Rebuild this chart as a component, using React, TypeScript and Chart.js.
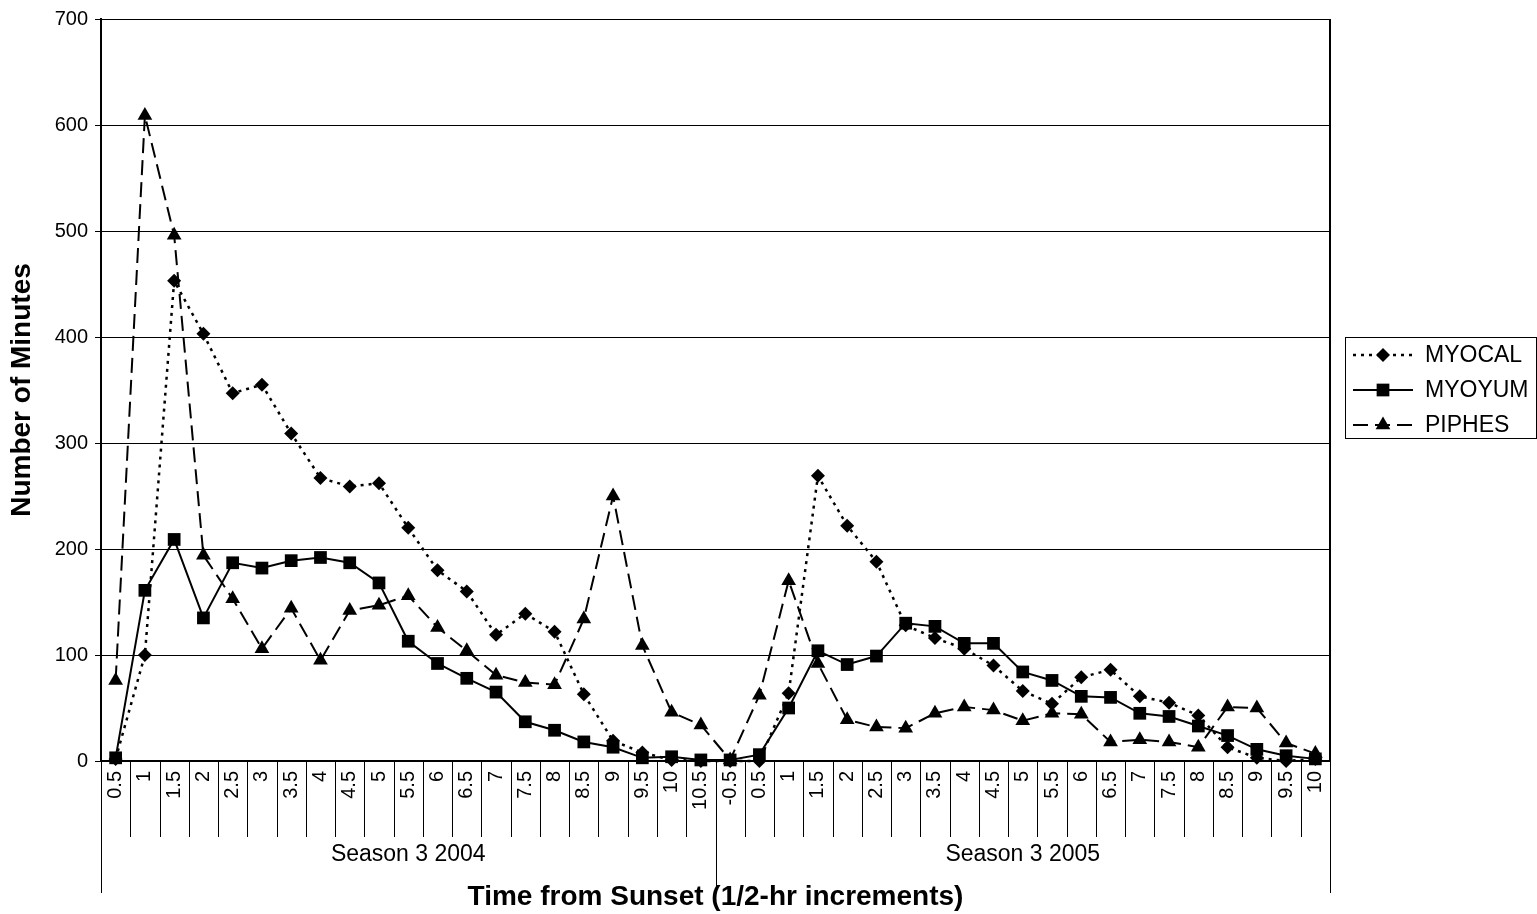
import { useEffect, useRef } from 'react';
import { Chart, registerables } from 'chart.js';

Chart.register(...registerables);

// Half-hour bins after sunset, per season
const season2004Labels = ['0.5', '1', '1.5', '2', '2.5', '3', '3.5', '4', '4.5', '5', '5.5', '6', '6.5', '7', '7.5', '8', '8.5', '9', '9.5', '10', '10.5'];
const season2005Labels = ['-0.5', '0.5', '1', '1.5', '2', '2.5', '3', '3.5', '4', '4.5', '5', '5.5', '6', '6.5', '7', '7.5', '8', '8.5', '9', '9.5', '10'];
const seasonNames = ['Season 3 2004', 'Season 3 2005'];

// Minutes of activity per bin
const myocal2004 = [2, 100, 453, 403, 347, 355, 309, 267, 259, 262, 220, 180, 160, 119, 139, 122, 63, 19, 8, 1, 0];
const myocal2005 = [0, 0, 64, 269, 222, 188, 128, 116, 106, 90, 66, 54, 79, 86, 61, 55, 43, 13, 3, 0, 2];
const myoyum2004 = [3, 161, 209, 135, 187, 182, 189, 192, 187, 168, 113, 92, 78, 65, 37, 29, 18, 13, 3, 4, 1];
const myoyum2005 = [1, 6, 50, 104, 91, 99, 130, 127, 111, 111, 84, 76, 61, 60, 45, 42, 33, 24, 11, 5, 2];
const piphes2004 = [76, 609, 496, 194, 153, 106, 144, 95, 142, 147, 156, 126, 104, 81, 74, 72, 134, 250, 109, 46, 34];
const piphes2005 = [1, 62, 170, 92, 39, 32, 31, 45, 51, 48, 38, 45, 44, 18, 20, 18, 13, 51, 50, 17, 7];

const yTicks = [0, 100, 200, 300, 400, 500, 600, 700];

const FONT = "'Liberation Sans', Arial, Helvetica, sans-serif";

type SeriesStyle = {
  name: string;
  dash: number[];
  width: number;
  point: 'rectRot' | 'rect' | 'triangle';
  radius: number;
};

const seriesStyles: SeriesStyle[] = [
  { name: 'MYOCAL', dash: [3, 5], width: 2.5, point: 'rectRot', radius: 7 },
  { name: 'MYOYUM', dash: [], width: 2, point: 'rect', radius: 9 },
  { name: 'PIPHES', dash: [15, 7], width: 2, point: 'triangle', radius: 8.5 },
];

function drawMarker(ctx: CanvasRenderingContext2D, kind: SeriesStyle['point'], r: number, x: number, y: number) {
  ctx.beginPath();
  if (kind === 'rectRot') {
    ctx.moveTo(x, y - r);
    ctx.lineTo(x + r, y);
    ctx.lineTo(x, y + r);
    ctx.lineTo(x - r, y);
  } else if (kind === 'rect') {
    const s = r * Math.SQRT1_2;
    ctx.rect(x - s, y - s, 2 * s, 2 * s);
  } else {
    ctx.moveTo(x, y - r);
    ctx.lineTo(x + r * Math.sin((2 * Math.PI) / 3), y + r / 2);
    ctx.lineTo(x - r * Math.sin((2 * Math.PI) / 3), y + r / 2);
  }
  ctx.closePath();
  ctx.fill();
}

const decorations = {
  id: 'decorations',
  afterDraw(chart: any) {
    const { ctx, chartArea } = chart;
    const xs = chart.scales.x;
    const n = season2004Labels.length + season2005Labels.length;
    const split = season2004Labels.length;
    const bounds: number[] = [];
    for (let i = 0; i <= n; i++) {
      if (i === 0) bounds.push(chartArea.left);
      else if (i === n) bounds.push(chartArea.right);
      else bounds.push((xs.getPixelForValue(i - 1) + xs.getPixelForValue(i)) / 2);
    }

    ctx.save();
    ctx.strokeStyle = '#000';
    ctx.lineWidth = 1;
    ctx.setLineDash([]);
    // category separators below the axis, longer ones for season groups
    bounds.forEach((bx, i) => {
      const px = Math.round(bx) + 0.5;
      const isGroup = i === 0 || i === n || i === split;
      ctx.beginPath();
      ctx.moveTo(px, chartArea.bottom);
      ctx.lineTo(px, chartArea.bottom + (isGroup ? 132 : 76));
      ctx.stroke();
    });

    // season names
    ctx.fillStyle = '#000';
    ctx.font = `23px ${FONT}`;
    ctx.textAlign = 'center';
    ctx.textBaseline = 'middle';
    ctx.fillText(seasonNames[0], (bounds[0] + bounds[split]) / 2, chartArea.bottom + 94);
    ctx.fillText(seasonNames[1], (bounds[split] + bounds[n]) / 2, chartArea.bottom + 94);

    // right edge of the plot frame
    ctx.lineWidth = 2;
    ctx.beginPath();
    ctx.moveTo(chartArea.right, chartArea.top);
    ctx.lineTo(chartArea.right, chartArea.bottom);
    ctx.stroke();

    // legend
    const lx = 1345.5;
    const ly = 337.5;
    ctx.lineWidth = 1;
    ctx.strokeRect(lx, ly, 191, 101);
    ctx.font = `23px ${FONT}`;
    ctx.textAlign = 'left';
    seriesStyles.forEach((s, i) => {
      const cy = 355 + i * 35;
      ctx.lineWidth = s.width;
      ctx.setLineDash(s.dash);
      ctx.beginPath();
      ctx.moveTo(1353, cy);
      ctx.lineTo(1413, cy);
      ctx.stroke();
      ctx.setLineDash([]);
      drawMarker(ctx, s.point, s.radius, 1383, cy);
      ctx.fillText(s.name, 1425, cy + 1);
    });
    ctx.restore();
  },
};

export default function App() {
  const canvasRef = useRef<HTMLCanvasElement | null>(null);

  useEffect(() => {
    if (!canvasRef.current) return;
    const labels = [...season2004Labels, ...season2005Labels];
    const values = [
      [...myocal2004, ...myocal2005],
      [...myoyum2004, ...myoyum2005],
      [...piphes2004, ...piphes2005],
    ];

    const chart = new Chart(canvasRef.current, {
      type: 'line',
      data: {
        labels,
        datasets: seriesStyles.map((s, i) => ({
          label: s.name,
          data: values[i],
          borderColor: '#000',
          backgroundColor: '#000',
          borderWidth: s.width,
          borderDash: s.dash,
          pointStyle: s.point,
          pointRadius: s.radius,
          pointBackgroundColor: '#000',
          pointBorderColor: '#000',
          pointBorderWidth: 0,
          tension: 0,
          fill: false,
          clip: false,
        })),
      },
      options: {
        responsive: false,
        animation: false,
        devicePixelRatio: 1,
        layout: { padding: { top: 17, right: 207, bottom: 0, left: 0 } },
        plugins: {
          legend: { display: false },
          tooltip: { enabled: false },
        },
        scales: {
          x: {
            type: 'category',
            offset: true,
            grid: { display: false, drawTicks: false },
            border: { display: true, color: '#000', width: 2 },
            ticks: {
              autoSkip: false,
              minRotation: 90,
              maxRotation: 90,
              padding: 10,
              color: '#000',
              font: { family: FONT, size: 20 },
            },
            title: {
              display: true,
              text: 'Time from Sunset (1/2-hr increments)',
              color: '#000',
              font: { family: FONT, size: 28, weight: 'bold' },
              padding: { top: 0, bottom: 0 },
            },
            afterFit(scale: any) {
              scale.height = 153;
            },
          },
          y: {
            min: 0,
            max: 700,
            grid: { color: '#000', lineWidth: 1, tickLength: 6 },
            border: { display: true, color: '#000', width: 2 },
            afterBuildTicks(scale: any) {
              scale.ticks = yTicks.map((v) => ({ value: v }));
            },
            ticks: {
              padding: 7,
              color: '#000',
              font: { family: FONT, size: 20 },
            },
            title: {
              display: true,
              text: 'Number of Minutes',
              color: '#000',
              font: { family: FONT, size: 28, weight: 'bold' },
              padding: { top: 5, bottom: 0 },
            },
            afterFit(scale: any) {
              scale.width = 101;
            },
          },
        },
      },
      plugins: [decorations],
    });

    return () => chart.destroy();
  }, []);

  return (
    <div style={{ position: 'absolute', left: 0, top: 0, width: 1537, height: 914, background: '#fff' }}>
      <canvas ref={canvasRef} width={1537} height={914} style={{ display: 'block' }} />
    </div>
  );
}
